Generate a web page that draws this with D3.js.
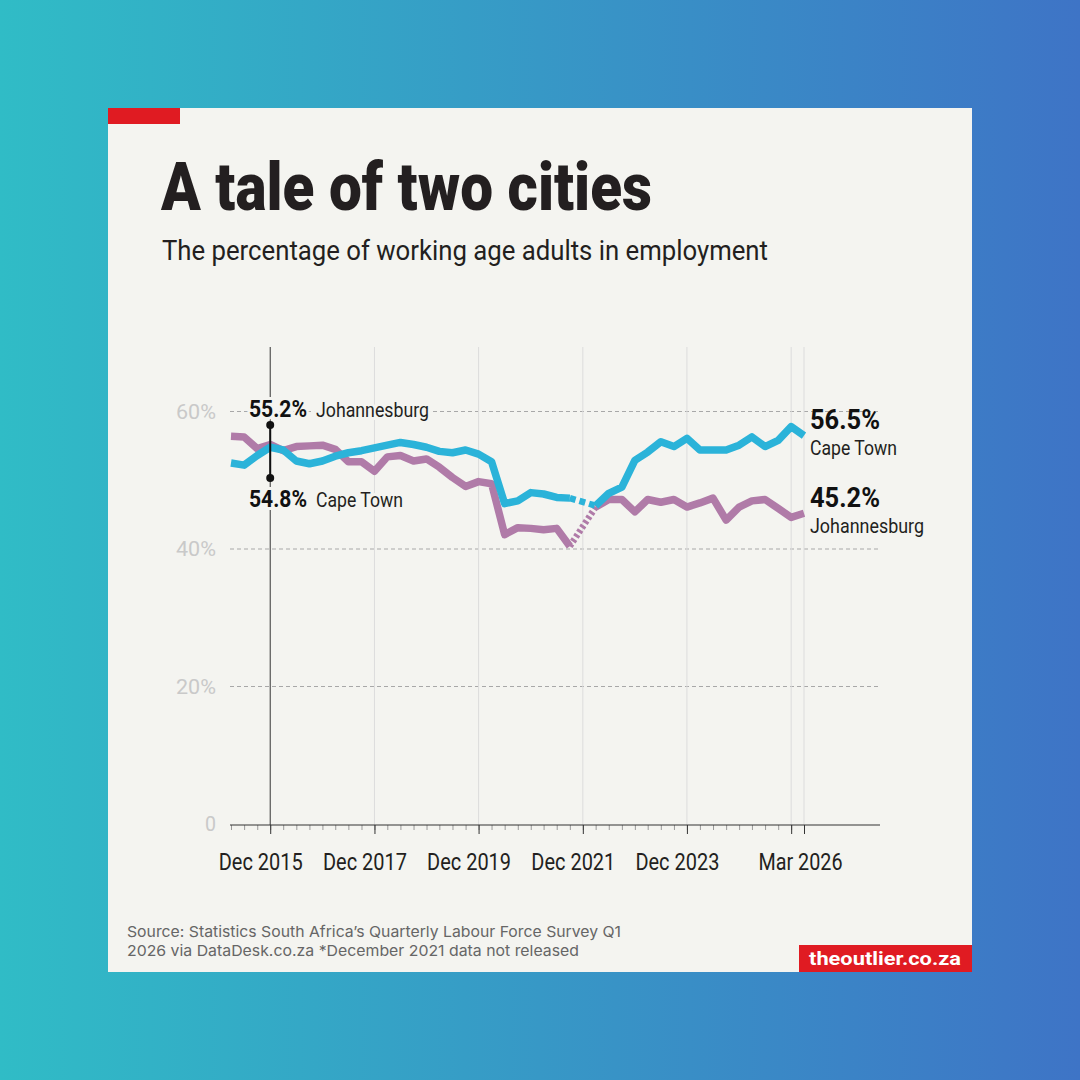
<!DOCTYPE html>
<html>
<head>
<meta charset="utf-8">
<script src="https://cdn.jsdelivr.net/npm/d3@7"></script>
<style>
  body { margin: 0; }
  svg { display: block; }
</style>
</head>
<body>
<div id="chart"></div>
<script>
// quarters (end month), Mar 2015 .. Mar 2026
const quarters = [
  "2015-03","2015-06","2015-09","2015-12",
  "2016-03","2016-06","2016-09","2016-12",
  "2017-03","2017-06","2017-09","2017-12",
  "2018-03","2018-06","2018-09","2018-12",
  "2019-03","2019-06","2019-09","2019-12",
  "2020-03","2020-06","2020-09","2020-12",
  "2021-03","2021-06","2021-09","2021-12",
  "2022-03","2022-06","2022-09","2022-12",
  "2023-03","2023-06","2023-09","2023-12",
  "2024-03","2024-06","2024-09","2024-12",
  "2025-03","2025-06","2025-09","2025-12",
  "2026-03"
];

// % of working age adults employed; Dec 2021 not released
const capeTown = [
  52.5, 52.2, 53.6, 54.8,
  54.4, 52.8, 52.4, 52.8,
  53.5, 54.0, 54.3, 54.7,
  55.1, 55.5, 55.2, 54.8,
  54.2, 54.0, 54.4, 53.8,
  52.7, 46.6, 47.0, 48.2,
  48.0, 47.5, 47.4, null,
  46.3, 48.1, 49.0, 52.9,
  54.1, 55.6, 54.9, 56.1,
  54.4, 54.4, 54.4, 55.1,
  56.3, 54.9, 55.8, 57.8,
  56.5
];
const johannesburg = [
  56.4, 56.3, 54.6, 55.2,
  54.3, 54.9, 55.0, 55.1,
  54.5, 52.7, 52.7, 51.3,
  53.4, 53.6, 52.8, 53.1,
  51.9, 50.4, 49.1, 49.8,
  49.5, 42.1, 43.1, 43.0,
  42.8, 43.0, 40.4, null,
  46.1, 47.2, 47.2, 45.4,
  47.2, 46.8, 47.2, 46.1,
  46.7, 47.4, 44.2, 46.1,
  47.0, 47.2, 45.9, 44.6,
  45.2
];

const yTicks = [0, 20, 40, 60];
const majorTicks = ["2015-12", "2017-12", "2019-12", "2021-12", "2023-12", "2025-12", "2026-03"];
const majorLabels = ["Dec 2015", "Dec 2017", "Dec 2019", "Dec 2021", "Dec 2023", "", "Mar 2026"];

const W = 1080, H = 1080;
const card = "#f4f4f0";
const blue = "#2bb3d9";
const purple = "#b07ba8";
const ink = "#231f20";

const parse = d3.timeParse("%Y-%m");

const svg = d3.select("#chart").append("svg")
  .attr("width", W)
  .attr("height", H);

// background gradient
const grad = svg.append("defs").append("linearGradient")
  .attr("id", "bg").attr("x1", 0).attr("x2", 1).attr("y1", 0).attr("y2", 0);
grad.append("stop").attr("offset", "0%").attr("stop-color", "#30bcc6");
grad.append("stop").attr("offset", "100%").attr("stop-color", "#3e74c6");
svg.append("rect").attr("width", W).attr("height", H).attr("fill", "url(#bg)");

// card
svg.append("rect").attr("x", 108).attr("y", 108).attr("width", 864).attr("height", 864).attr("fill", card);
svg.append("rect").attr("x", 108).attr("y", 108).attr("width", 72).attr("height", 16).attr("fill", "#e01b22");

// title + subtitle
svg.append("text")
  .attr("x", 161).attr("y", 210)
  .attr("font-family", "Roboto").attr("font-weight", 900).attr("font-size", 67)
  .attr("fill", ink)
  .attr("textLength", 491).attr("lengthAdjust", "spacingAndGlyphs")
  .text("A tale of two cities");

svg.append("text")
  .attr("x", 162).attr("y", 260)
  .attr("font-family", "Roboto").attr("font-size", 27)
  .attr("fill", ink)
  .attr("textLength", 606).attr("lengthAdjust", "spacingAndGlyphs")
  .text("The percentage of working age adults in employment");

// scales
const x = d3.scaleTime()
  .domain([parse("2015-03"), parse("2026-03")])
  .range([231, 804]);

const y = d3.scaleLinear()
  .domain([0, 60])
  .range([824, 411.5]);

const g = svg.append("g");

// horizontal gridlines
g.selectAll(".hgrid")
  .data(yTicks.filter(d => d > 0))
  .join("line")
  .attr("x1", 230).attr("x2", 880)
  .attr("y1", d => y(d)).attr("y2", d => y(d))
  .attr("stroke", "#a8a8a8").attr("stroke-width", 1)
  .attr("stroke-dasharray", "4,3");

g.selectAll(".ylab")
  .data(yTicks)
  .join("text")
  .attr("x", 216).attr("y", d => y(d) + 7)
  .attr("text-anchor", "end")
  .attr("font-family", "Roboto").attr("font-size", 21)
  .attr("fill", "#c9c9c9")
  .attr("textLength", d => d === 0 ? 11 : 40).attr("lengthAdjust", "spacingAndGlyphs")
  .text(d => d === 0 ? "0" : d + "%");

// vertical gridlines at major ticks
g.selectAll(".vgrid")
  .data(majorTicks)
  .join("line")
  .attr("x1", d => x(parse(d))).attr("x2", d => x(parse(d)))
  .attr("y1", 347).attr("y2", 825)
  .attr("stroke", (d, i) => i === 0 ? "#333" : "#dcdcdc")
  .attr("stroke-width", 1);

// x axis: quarterly minor ticks + major ticks
const minorAxis = d3.axisBottom(x)
  .tickValues(quarters.slice(0, -1).map(parse))
  .tickSize(5)
  .tickFormat("");

const axisG = svg.append("g")
  .attr("transform", "translate(0,825)")
  .call(minorAxis);
axisG.select(".domain").remove();
axisG.selectAll("line").attr("stroke", "#999");

const majorAxis = d3.axisBottom(x)
  .tickValues(majorTicks.map(parse))
  .tickSize(9)
  .tickPadding(19)
  .tickFormat((d, i) => majorLabels[i]);

const axisM = svg.append("g")
  .attr("transform", "translate(0,825)")
  .call(majorAxis);
axisM.select(".domain").remove();
axisM.selectAll("line").attr("stroke", "#333");
axisM.selectAll("text")
  .attr("font-family", "Roboto").attr("font-size", 24)
  .attr("fill", ink)
  .attr("dx", (d, i) => i === 6 ? -4 : -10)
  .attr("textLength", 84).attr("lengthAdjust", "spacingAndGlyphs");

svg.append("line")
  .attr("x1", 230).attr("x2", 880)
  .attr("y1", 825).attr("y2", 825)
  .attr("stroke", "#333").attr("stroke-width", 1.2);

// lines
function series(vals) {
  return quarters.map((q, i) => ({ date: parse(q), v: vals[i] }));
}

const line = d3.line()
  .defined(d => d.v != null)
  .x(d => x(d.date))
  .y(d => y(d.v));

function drawSeries(vals, color, dash) {
  const data = series(vals);
  const gapIdx = data.findIndex(d => d.v == null);
  // dashed bridge over missing quarter
  g.append("path")
    .datum([data[gapIdx - 1], data[gapIdx + 1]])
    .attr("d", line)
    .attr("fill", "none")
    .attr("stroke", color).attr("stroke-width", 6.5)
    .attr("stroke-dasharray", dash);
  g.append("path")
    .datum(data)
    .attr("d", line)
    .attr("fill", "none")
    .attr("stroke", color).attr("stroke-width", 7.5)
    .attr("stroke-linejoin", "round");
}

drawSeries(johannesburg, purple, "3,2.5");
drawSeries(capeTown, blue, "6,4");

// Dec 2015 annotation
const xa = x(parse("2015-12"));
g.append("line")
  .attr("x1", xa).attr("x2", xa)
  .attr("y1", 425).attr("y2", 478)
  .attr("stroke", "#111").attr("stroke-width", 2);
g.selectAll(".adot")
  .data([425, 478])
  .join("circle")
  .attr("cx", xa).attr("cy", d => d).attr("r", 4)
  .attr("fill", "#111");

function label(xp, yp, big, small, bigLen, smallLen, bigSize, halo, gapPx) {
  const t = g.append("g");
  t.append("text")
    .attr("x", xp).attr("y", yp)
    .attr("font-family", "Roboto").attr("font-weight", 700).attr("font-size", bigSize)
    .attr("fill", "#111")
    .attr("textLength", bigLen).attr("lengthAdjust", "spacingAndGlyphs")
    .text(big);
  const s = t.append("text")
    .attr("font-family", "Roboto").attr("font-size", 21)
    .attr("fill", ink)
    .attr("textLength", smallLen).attr("lengthAdjust", "spacingAndGlyphs")
    .text(small);
  if (gapPx != null) {
    s.attr("x", xp + bigLen + gapPx).attr("y", yp);
  } else {
    s.attr("x", xp).attr("y", yp + 26);
  }
  if (halo) {
    t.selectAll("text")
      .attr("stroke", card).attr("stroke-width", 6)
      .attr("paint-order", "stroke");
  }
}

label(249, 417, "55.2%", "Johannesburg", 58, 113, 24, true, 9);
label(249, 507, "54.8%", "Cape Town", 58, 87, 24, true, 9);

label(810, 429, "56.5%", "Cape Town", 70, 87, 27, false, null);
label(810, 507, "45.2%", "Johannesburg", 70, 114, 27, false, null);

// footer
const foot = svg.append("g")
  .attr("font-family", "Inter").attr("font-size", 15)
  .attr("fill", "#666");
foot.append("text").attr("x", 127).attr("y", 937)
  .attr("textLength", 494).attr("lengthAdjust", "spacingAndGlyphs")
  .text("Source: Statistics South Africa\u2019s Quarterly Labour Force Survey Q1");
foot.append("text").attr("x", 127).attr("y", 956)
  .attr("textLength", 452).attr("lengthAdjust", "spacingAndGlyphs")
  .text("2026 via DataDesk.co.za *December 2021 data not released");

svg.append("rect")
  .attr("x", 799).attr("y", 945).attr("width", 173).attr("height", 27)
  .attr("fill", "#e01b22");
svg.append("text")
  .attr("x", 885).attr("y", 965)
  .attr("text-anchor", "middle")
  .attr("font-family", "Roboto").attr("font-weight", 700).attr("font-size", 19)
  .attr("fill", "#fff")
  .attr("textLength", 152).attr("lengthAdjust", "spacingAndGlyphs")
  .text("theoutlier.co.za");
</script>
</body>
</html>
